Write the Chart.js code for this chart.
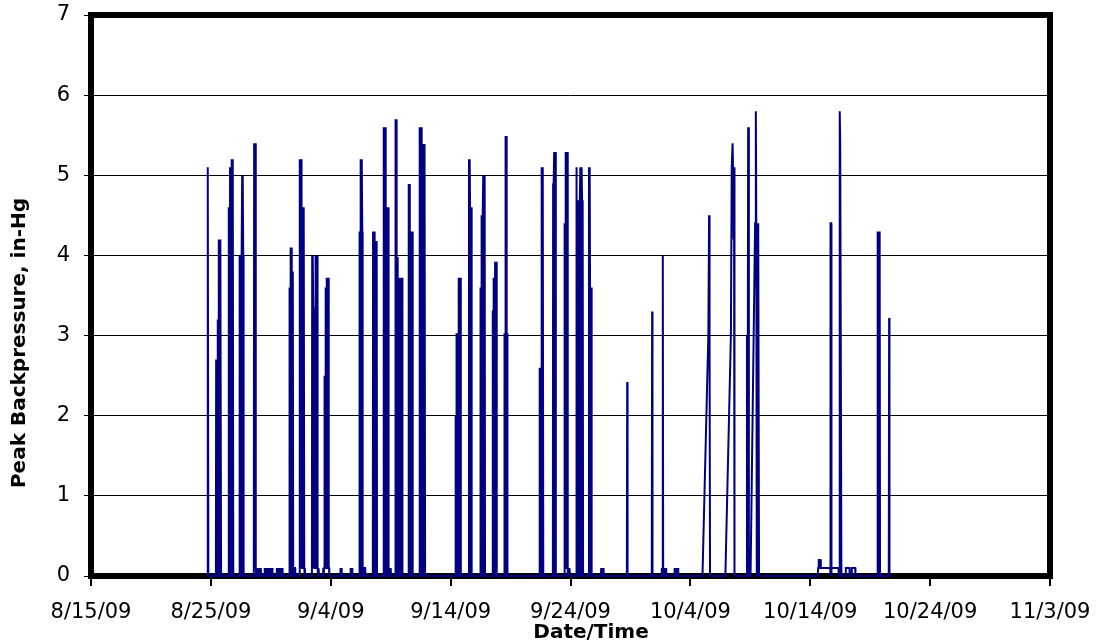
<!DOCTYPE html>
<html>
<head>
<meta charset="utf-8">
<script src="https://cdn.jsdelivr.net/npm/chart.js@4.4.1/dist/chart.umd.min.js"></script>
<style>
  html, body { margin: 0; padding: 0; background: #fff; overflow: hidden; }
  canvas { display: block; }
</style>
</head>
<body>
<canvas id="c" width="1096" height="643"></canvas>
<script>
// Axis text
const xTickLabels = ['8/15/09', '8/25/09', '9/4/09', '9/14/09', '9/24/09', '10/4/09', '10/14/09', '10/24/09', '11/3/09'];
const yTickLabels = ['0', '1', '2', '3', '4', '5', '6', '7'];
const yTitle = 'Peak Backpressure, in-Hg';
const xTitle = 'Date/Time';

// Readings: time in days since 8/15/09 00:00, one line per burst
const dayOffsets = [
  9.69, 9.74, 9.79,
  10.42, 10.44, 10.47, 10.50, 10.53, 10.56, 10.59, 10.62, 10.65, 10.67, 10.70, 10.73, 10.76, 10.79, 10.82, 10.85,
  11.46, 11.48, 11.51, 11.54, 11.57, 11.60, 11.63, 11.66, 11.69, 11.72, 11.75, 11.78, 11.81, 11.84, 11.87,
  12.38, 12.40, 12.43, 12.46, 12.49, 12.52, 12.55, 12.58, 12.61, 12.64, 12.67, 12.70, 12.73,
  13.56, 13.58, 13.61, 13.64, 13.67, 13.70, 13.73, 13.76, 13.80, 13.84, 13.88, 13.92, 13.96, 14.00, 14.04, 14.08, 14.12, 14.16, 14.20,
  14.45, 14.49, 14.53, 14.57, 14.61, 14.65, 14.69, 14.73, 14.77, 14.81, 14.85, 14.89, 14.93, 14.97, 15.01, 15.05, 15.09, 15.12, 15.14,
  15.46, 15.50, 15.54, 15.58, 15.62, 15.66, 15.70, 15.74, 15.78, 15.82, 15.86, 15.90, 15.94, 15.97, 15.99,
  16.53, 16.55, 16.58, 16.61, 16.64, 16.67, 16.70, 16.73, 16.76, 16.79, 16.82, 16.85, 16.87,
  16.97, 16.99, 17.02, 17.04,
  17.38, 17.40, 17.43, 17.46, 17.49, 17.52, 17.55, 17.58, 17.61, 17.64, 17.67, 17.70, 17.73, 17.76, 17.79, 17.82, 17.85, 17.88,
  18.43, 18.45, 18.48, 18.51, 18.54, 18.57, 18.60, 18.63, 18.66, 18.69, 18.72, 18.75, 18.78, 18.81, 18.84, 18.87, 18.90, 18.94, 18.98, 19.02,
  19.35, 19.38, 19.41, 19.44, 19.47, 19.50, 19.53, 19.56, 19.59, 19.62, 19.65, 19.68, 19.71, 19.74, 19.77, 19.80, 19.83, 19.86, 19.88,
  20.78, 20.80, 20.83, 20.86, 20.89, 20.92, 20.94,
  21.64, 21.66, 21.69, 21.72, 21.75, 21.78, 21.80,
  22.37, 22.39, 22.42, 22.45, 22.48, 22.51, 22.54, 22.57, 22.60, 22.63, 22.66, 22.70, 22.74, 22.78, 22.82, 22.86, 22.88,
  23.51, 23.53, 23.56, 23.59, 23.62, 23.65, 23.67, 23.70, 23.73, 23.76, 23.79, 23.82, 23.84, 23.86,
  24.40, 24.42, 24.45, 24.48, 24.51, 24.54, 24.57, 24.60, 24.63, 24.66, 24.69, 24.72, 24.75, 24.78, 24.81, 24.84, 24.88, 24.92, 24.96, 25.00, 25.03,
  25.37, 25.39, 25.42, 25.45, 25.48, 25.51, 25.54, 25.57, 25.60, 25.63, 25.66, 25.69, 25.72, 25.75, 25.78, 25.81, 25.84, 25.87, 25.90, 25.93, 25.96, 25.98,
  26.47, 26.49, 26.52, 26.55, 26.58, 26.61, 26.64, 26.67, 26.70, 26.73, 26.76, 26.79, 26.82, 26.85,
  27.40, 27.42, 27.45, 27.48, 27.51, 27.54, 27.57, 27.60, 27.63, 27.66, 27.69, 27.72, 27.75, 27.78, 27.81, 27.84, 27.87,
  30.40, 30.42, 30.45, 30.48, 30.51, 30.54, 30.57, 30.60, 30.63, 30.66, 30.69, 30.72, 30.75, 30.78, 30.81, 30.84, 30.86,
  31.50, 31.53, 31.56, 31.59, 31.62, 31.65, 31.68, 31.71, 31.74, 31.77,
  32.46, 32.48, 32.51, 32.54, 32.57, 32.60, 32.63, 32.66, 32.69, 32.72, 32.75, 32.78, 32.81, 32.84, 32.87,
  33.48, 33.50, 33.53, 33.56, 33.59, 33.62, 33.65, 33.68, 33.71, 33.74, 33.77, 33.80, 33.83, 33.86,
  34.46, 34.48, 34.51, 34.54, 34.57, 34.60, 34.63, 34.66, 34.69, 34.72, 34.74,
  37.41, 37.43, 37.46, 37.49, 37.52, 37.55, 37.58, 37.61, 37.64, 37.67, 37.70, 37.73,
  38.53, 38.55, 38.58, 38.61, 38.64, 38.67, 38.70, 38.73, 38.76, 38.79,
  39.46, 39.48, 39.51, 39.54, 39.57, 39.60, 39.63, 39.66, 39.69, 39.72, 39.75, 39.79, 39.83, 39.87, 39.91, 39.94, 39.97,
  40.47, 40.49, 40.52, 40.55, 40.58, 40.61, 40.64, 40.67, 40.70, 40.73, 40.76, 40.79, 40.82, 40.85, 40.88, 40.91, 40.94, 40.97, 41.00, 41.03, 41.05,
  41.52, 41.54, 41.57, 41.60, 41.63, 41.66, 41.69, 41.72, 41.75, 41.78,
  42.54, 42.56, 42.59, 42.62, 42.65, 42.68, 42.71, 42.74, 42.76,
  44.70, 44.73, 44.76,
  46.78, 46.81, 46.84,
  47.57, 47.60, 47.63, 47.66, 47.69, 47.71, 47.73, 47.76, 47.79, 47.82, 47.85, 47.88, 47.91, 47.94, 47.97, 47.99,
  48.65, 48.67, 48.70, 48.73, 48.76, 48.79, 48.82, 48.85, 48.88, 48.91, 48.94, 48.97, 48.99,
  51.01, 51.40, 51.50, 51.56, 51.60, 51.64,
  52.92, 53.38, 53.45, 53.52, 53.56, 53.60, 53.64, 53.68,
  54.68, 54.72, 54.76, 54.82, 54.88, 55.02, 55.40, 55.46, 55.50, 55.54, 55.58, 55.62, 55.66, 55.70, 55.73,
  60.62, 60.66, 60.70, 60.72, 60.86, 60.88, 61.66, 61.68, 61.70, 61.74, 61.76, 61.78, 62.36, 62.38, 62.44, 62.46, 62.50, 62.56, 62.60, 62.95, 62.97, 63.27, 63.29, 63.45, 63.47, 63.75, 63.77,
  65.58, 65.61, 65.64, 65.67, 65.70, 65.73, 65.76, 65.79, 65.82,
  66.55, 66.58, 66.61, 66.70
];

// Peak backpressure, in-Hg (same order as dayOffsets)
const pressure = [
  0, 5.1, 0,
  0, 2.7, 0, 2.7, 0, 3.2, 0, 3.2, 0, 4.2, 0, 4.2, 0, 4.2, 4.2, 0,
  0, 4.6, 0, 4.6, 0, 5.1, 0, 5.1, 0, 5.2, 0, 5.2, 4.8, 5.2, 0,
  0, 4.0, 0, 4.0, 0, 4.0, 0, 4.0, 5.0, 0, 5.0, 4.0, 0,
  0, 0.1, 5.4, 0.1, 5.4, 0.1, 5.4, 0.1, 0, 0.1, 0, 0.1, 0, 0.1, 0, 0.1, 0, 0.1, 0,
  0, 0.1, 0, 0.1, 0, 0.1, 0, 0.1, 0, 0.1, 0, 0.1, 0, 0.1, 0, 0.1, 0, 0.1, 0,
  0, 0.1, 0, 0.1, 0, 0.1, 0, 0.1, 0, 0.1, 0, 0.1, 0, 0.1, 0,
  0, 3.6, 0, 3.6, 4.1, 0, 4.1, 3.8, 0, 3.8, 0, 3.8, 0,
  0, 0.1, 0.1, 0,
  0, 5.2, 0.1, 5.2, 0.1, 5.2, 0.1, 4.6, 0.1, 4.6, 0.1, 4.6, 0.1, 4.6, 0.1, 0, 0.1, 0,
  0, 4.0, 0.1, 4.0, 3.35, 0.1, 3.35, 0.1, 3.35, 0.1, 3.35, 4.0, 0.1, 4.0, 0.1, 4.0, 0.1, 0, 0.1, 0,
  0, 0.1, 0, 0.1, 2.5, 0.1, 2.5, 0.1, 3.6, 0.1, 3.6, 3.72, 0.1, 3.72, 0.1, 3.72, 0.1, 0.1, 0,
  0, 0.1, 0, 0.1, 0, 0.1, 0,
  0, 0.1, 0, 0.1, 0, 0.1, 0,
  0, 4.3, 0, 4.3, 5.2, 0, 5.2, 0, 5.2, 4.3, 0.1, 0, 0.1, 0, 0.1, 0.1, 0,
  0, 4.3, 0, 4.3, 0, 4.3, 4.18, 0, 4.18, 0, 4.18, 0, 4.18, 0,
  0, 5.6, 0, 5.6, 0, 5.6, 4.6, 0, 4.6, 0, 4.6, 0, 4.6, 0.1, 4.6, 0.1, 0, 0.1, 0, 0.1, 0,
  0, 5.7, 0, 5.7, 3.98, 0, 3.98, 0, 3.72, 0, 3.72, 0, 3.72, 0, 3.72, 0, 3.72, 0, 3.72, 0, 3.72, 0,
  0, 4.89, 0, 4.89, 4.3, 0, 4.3, 0, 4.3, 0, 4.3, 0, 4.3, 0,
  0, 5.6, 0, 5.6, 0, 5.6, 4.5, 0, 4.5, 0, 4.5, 5.39, 0, 5.39, 0, 5.39, 0,
  0, 2.0, 0, 2.0, 3.03, 0, 3.03, 0, 3.03, 3.72, 0, 3.72, 0, 3.72, 0, 3.72, 0,
  0, 5.2, 0, 5.2, 4.6, 0, 4.6, 0, 4.6, 0,
  0, 3.6, 0, 3.6, 4.5, 0, 4.5, 0, 4.5, 5.0, 0, 5.0, 0, 5.0, 0,
  0, 3.31, 0, 3.31, 3.72, 0, 3.72, 0, 3.92, 0, 3.92, 0, 3.92, 0,
  0, 3.03, 0, 3.03, 5.49, 0, 5.49, 3.03, 0, 3.03, 0,
  0, 2.6, 0, 2.6, 0, 2.6, 5.1, 0, 5.1, 0, 5.1, 0,
  0, 4.9, 0, 4.9, 5.29, 0, 5.29, 0, 5.29, 0,
  0, 4.4, 0, 4.4, 0.1, 5.29, 0.1, 5.1, 0.1, 5.29, 0.1, 0, 0.1, 0, 0.1, 0.1, 0,
  0, 5.1, 0, 4.69, 0, 4.69, 0, 4.69, 0, 4.69, 0, 4.69, 5.1, 0, 5.1, 0, 5.1, 4.69, 0, 4.69, 0,
  0, 5.1, 0, 5.1, 3.6, 0, 3.6, 0, 3.6, 0,
  0, 0.1, 0, 0.1, 0, 0.1, 0, 0.1, 0,
  0, 2.42, 0,
  0, 3.3, 0,
  0, 0.1, 0, 0.1, 0, 4.0, 0.1, 0, 0.1, 0, 0.1, 0, 0.1, 0, 0.1, 0,
  0, 0.1, 0, 0.1, 0, 0.1, 0, 0.1, 0, 0.1, 0, 0.1, 0,
  0, 2.4, 3.0, 4.5, 3.0, 0,
  0, 3.0, 5.1, 5.4, 5.1, 4.2, 5.1, 0,
  0, 3.0, 0, 5.6, 0, 0, 4.4, 5.8, 4.4, 0, 4.4, 0, 4.4, 4.4, 0,
  0, 0.1, 0.1, 0.2, 0.2, 0.1, 0.1, 0, 4.4, 4.4, 0, 0.1, 0.1, 0, 0, 5.8, 5.4, 5.4, 0, 0, 0.1, 0.1, 0, 0, 0.1, 0.1, 0,
  0, 4.3, 0, 4.3, 0, 4.3, 0, 4.3, 0,
  0, 3.22, 0, 0
];

const points = dayOffsets.map((d, i) => ({ x: d, y: pressure[i] }));

const FONT = 'DejaVu Sans';

const framePlugin = {
  id: 'frame',
  beforeDatasetsDraw(chart) {
    const { ctx, chartArea: a } = chart;
    ctx.save();
    ctx.strokeStyle = '#000';
    ctx.lineWidth = 6;
    ctx.lineJoin = 'miter';
    ctx.strokeRect(a.left, a.top, a.right - a.left, a.bottom - a.top);
    ctx.restore();
  }
};

const titlePlugin = {
  id: 'axisTitles',
  afterDraw(chart) {
    const { ctx } = chart;
    ctx.save();
    ctx.fillStyle = '#000';
    ctx.font = 'bold 20px "' + FONT + '"';
    ctx.textAlign = 'center';
    ctx.textBaseline = 'middle';
    ctx.fillText(xTitle, 591, 633);
    ctx.translate(20, 343);
    ctx.rotate(-Math.PI / 2);
    ctx.fillText(yTitle, 0, 0);
    ctx.restore();
  }
};

new Chart(document.getElementById('c').getContext('2d'), {
  type: 'line',
  data: {
    datasets: [{
      data: points,
      borderColor: '#000080',
      borderWidth: 2,
      pointRadius: 0,
      pointHoverRadius: 0,
      tension: 0,
      fill: false,
      clip: false
    }]
  },
  options: {
    responsive: false,
    animation: false,
    events: [],
    layout: { padding: { left: 0, top: 15, right: 46, bottom: 0 } },
    plugins: { legend: { display: false }, tooltip: { enabled: false } },
    scales: {
      x: {
        type: 'linear',
        min: 0,
        max: 80,
        afterFit(s) { s.height = 67; s.paddingLeft = 0; s.paddingRight = 0; },
        afterBuildTicks(s) { s.ticks = xTickLabels.map((_, i) => ({ value: i * 10 })); },
        ticks: {
          callback: (v) => xTickLabels[Math.round(v / 10)],
          font: { family: FONT, size: 21 },
          color: '#000',
          padding: 14,
          maxRotation: 0,
          autoSkip: false
        },
        grid: { drawOnChartArea: false, drawTicks: true, tickLength: 10, color: '#000', lineWidth: 2 },
        border: { display: false }
      },
      y: {
        min: 0,
        max: 7,
        afterFit(s) { s.width = 91; s.paddingTop = 0; s.paddingBottom = 0; },
        ticks: {
          stepSize: 1,
          callback: (v) => yTickLabels[v],
          font: { family: FONT, size: 21 },
          color: '#000',
          padding: 14
        },
        grid: { color: '#000', lineWidth: 1, tickLength: 7 },
        border: { display: false }
      }
    }
  },
  plugins: [framePlugin, titlePlugin]
});
</script>
</body>
</html>
